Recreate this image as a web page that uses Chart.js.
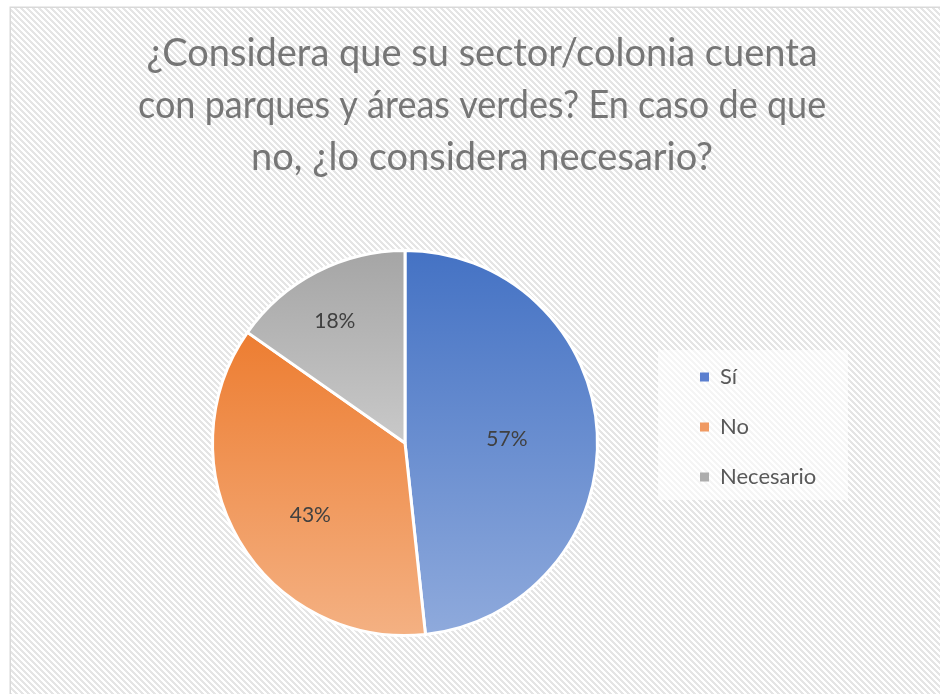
<!DOCTYPE html>
<html><head><meta charset="utf-8">
<script src="https://cdn.jsdelivr.net/npm/chart.js@4.4.1/dist/chart.umd.min.js"></script>
<style>html,body{margin:0;padding:0;background:#fff;overflow:hidden}canvas{display:block}</style>
</head><body>
<canvas id="c" width="940" height="694"></canvas>
<script>
// ---- data ----
const titleLines = ['¿Considera que su sector/colonia cuenta', 'con parques y áreas verdes? En caso de que', 'no, ¿lo considera necesario?'];
const categories = ['Sí', 'No', 'Necesario'];
const values = [57, 43, 18];

// ---- styles ----
const topColors = ['#4472C4', '#ED7D31', '#A5A5A5'];
const bottomColors = ['#8FAADC', '#F4B183', '#C9C9C9'];
const legendColors = ['#5B7FCF', '#F09A63', '#ADADAD'];
const FONT = 'Lato';
const legendFontSize = 22;
const legendPad = 28;
const legendBox = 9;
const legendLeft = 672;
const legendTop = 338;
const pieCenterX = 405;

const mctx = document.createElement('canvas').getContext('2d');
mctx.font = legendFontSize + 'px ' + FONT;
const maxText = Math.max(...categories.map(t => mctx.measureText(t).width));
const legendW = legendPad + legendBox + legendFontSize / 2 + maxText + 10;
const padRight = 940 - legendLeft - legendW;
const padLeft = 2 * pieCenterX - legendLeft;

// hatch tile
const tile = document.createElement('canvas');
tile.width = 6; tile.height = 6;
(function(){
  const t = tile.getContext('2d');
  const img = t.createImageData(6, 6);
  for (let y = 0; y < 6; y++) for (let x = 0; x < 6; x++) {
    const on = (((x - y) % 6) + 6) % 6 < 3;
    const v = on ? 229 : 255;
    const k = (y * 6 + x) * 4;
    img.data[k] = v; img.data[k+1] = v; img.data[k+2] = v; img.data[k+3] = 255;
  }
  t.putImageData(img, 0, 0);
})();

const bgPlugin = {
  id: 'bg',
  beforeDraw(chart) {
    const ctx = chart.ctx, w = chart.width, h = chart.height;
    ctx.save();
    ctx.fillStyle = '#fff';
    ctx.fillRect(0, 0, w, h);
    ctx.fillStyle = ctx.createPattern(tile, 'repeat');
    ctx.fillRect(11, 8, w, h);
    ctx.strokeStyle = '#d9d9d9';
    ctx.lineWidth = 1.5;
    ctx.strokeRect(10.25, 7.25, w + 20, h + 20);
    ctx.fillStyle = 'rgba(255,255,255,0.6)';
    ctx.fillRect(658, 350, 190, 150);
    ctx.restore();
  },
  afterLayout(chart) {
    const lg = chart.legend;
    if (lg) { const h = lg.bottom - lg.top; lg.top = legendTop; lg.bottom = legendTop + h; }
  }
};

function sliceGradient(context) {
  const chart = context.chart;
  const i = context.dataIndex;
  const ca = chart.chartArea;
  if (!ca || i === undefined) return topColors[i] || topColors[0];
  const cx = (ca.left + ca.right) / 2, cy = (ca.top + ca.bottom) / 2;
  const r = Math.min(ca.right - ca.left, ca.bottom - ca.top) / 2;
  const total = values.reduce((a, b) => a + b, 0);
  let acc = 0;
  for (let k = 0; k < i; k++) acc += values[k];
  const a0 = -Math.PI / 2 + acc / total * 2 * Math.PI;
  const a1 = a0 + values[i] / total * 2 * Math.PI;
  let minY = cy, maxY = cy;
  for (let s = 0; s <= 120; s++) {
    const a = a0 + (a1 - a0) * s / 120;
    const py = cy + r * Math.sin(a);
    minY = Math.min(minY, py); maxY = Math.max(maxY, py);
  }
  const g = chart.ctx.createLinearGradient(0, minY, 0, maxY);
  g.addColorStop(0, topColors[i]);
  g.addColorStop(1, bottomColors[i]);
  return g;
}

const labelPlugin = {
  id: 'sliceLabels',
  afterDatasetsDraw(chart, args, opts) {
    const ctx = chart.ctx;
    const meta = chart.getDatasetMeta(0);
    ctx.save();
    ctx.font = opts.size + 'px ' + FONT;
    ctx.fillStyle = opts.color;
    ctx.textAlign = 'center';
    ctx.textBaseline = 'middle';
    meta.data.forEach((arc, i) => {
      const p = arc.getProps(['x', 'y', 'startAngle', 'endAngle', 'outerRadius'], true);
      const place = opts.place[i];
      const mid = (p.startAngle + p.endAngle) / 2 + place.da * Math.PI / 180;
      const rr = p.outerRadius * place.r;
      ctx.fillText(values[i] + '%', p.x + rr * Math.cos(mid), p.y + rr * Math.sin(mid));
    });
    ctx.restore();
  }
};

new Chart(document.getElementById('c'), {
  type: 'pie',
  data: {
    labels: categories,
    datasets: [{
      data: values,
      backgroundColor: sliceGradient,
      borderColor: '#ffffff',
      borderWidth: 3
    }]
  },
  options: {
    responsive: false,
    devicePixelRatio: 1,
    animation: false,
    events: [],
    layout: { padding: { top: 0, left: padLeft, right: padRight, bottom: 57 } },
    plugins: {
      tooltip: { enabled: false },
      title: {
        display: true,
        text: titleLines,
        color: '#767676',
        font: { family: FONT, size: 38, weight: 'normal', lineHeight: '52px' },
        padding: { top: 28, bottom: 65 }
      },
      legend: {
        display: true,
        position: 'right',
        align: 'start',
        labels: {
          color: '#595959',
          font: { family: FONT, size: legendFontSize },
          boxWidth: legendBox,
          boxHeight: legendBox,
          padding: legendPad,
          generateLabels(chart) {
            const items = Chart.controllers.pie.overrides.plugins.legend.labels.generateLabels(chart);
            items.forEach((it, i) => { it.fillStyle = legendColors[i]; it.strokeStyle = legendColors[i]; it.lineWidth = 0; });
            return items;
          }
        }
      },
      sliceLabels: {
        size: 21,
        color: '#404040',
        place: [{ r: 0.53, da: 1 }, { r: 0.62, da: -7 }, { r: 0.73, da: -2.5 }]
      }
    }
  },
  plugins: [bgPlugin, labelPlugin]
});
</script>
</body></html>
